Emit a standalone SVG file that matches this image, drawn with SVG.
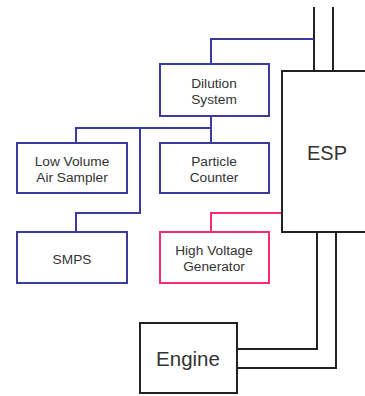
<svg xmlns="http://www.w3.org/2000/svg" width="365" height="396" viewBox="0 0 365 396">
<style>
.b{fill:#fff;stroke:#3b3b9e;stroke-width:2}
.p{fill:#fff;stroke:#ff2a6d;stroke-width:2}
.k{fill:#fff;stroke:#222;stroke-width:2}
.lb{fill:none;stroke:#3b3b9e;stroke-width:2}
.lp{fill:none;stroke:#ff2a6d;stroke-width:2}
.lk{fill:none;stroke:#222;stroke-width:2}
text{font-family:"Liberation Sans",Arial,sans-serif;fill:#333;text-anchor:middle}
.s{font-size:13.7px}
</style>
<rect width="365" height="396" fill="#fff"/>
<g id="connectors">
<path class="lk" d="M314,7V71M333,7V71"/>
<path class="lb" d="M211,64V39H314"/>
<path class="lb" d="M211,116V143M76,143V128H211M140,128V213H76V232"/>
<path class="lp" d="M211,232V213H282"/>
<path class="lk" d="M317,232V349H237M336,232V368H237"/>
</g>
<g id="esp"><rect class="k" x="282" y="71" width="90" height="161"/><text x="327" y="160" font-size="20">ESP</text></g>
<g id="dilution"><rect class="b" x="160" y="64" width="109" height="52"/><text class="s" x="214" y="88">Dilution</text><text class="s" x="214" y="104">System</text></g>
<g id="lvas"><rect class="b" x="17" y="143" width="110" height="50"/><text class="s" x="72" y="166">Low Volume</text><text class="s" x="72" y="182">Air Sampler</text></g>
<g id="pc"><rect class="b" x="160" y="143" width="109" height="50"/><text class="s" x="214" y="166">Particle</text><text class="s" x="214" y="182">Counter</text></g>
<g id="smps"><rect class="b" x="17" y="232" width="110" height="51"/><text class="s" x="72" y="264">SMPS</text></g>
<g id="hvg"><rect class="p" x="160" y="232" width="109" height="51"/><text class="s" x="214" y="255">High Voltage</text><text class="s" x="214" y="271">Generator</text></g>
<g id="engine"><rect class="k" x="140" y="323" width="97" height="70"/><text x="188" y="366" font-size="20.5">Engine</text></g>
</svg>
